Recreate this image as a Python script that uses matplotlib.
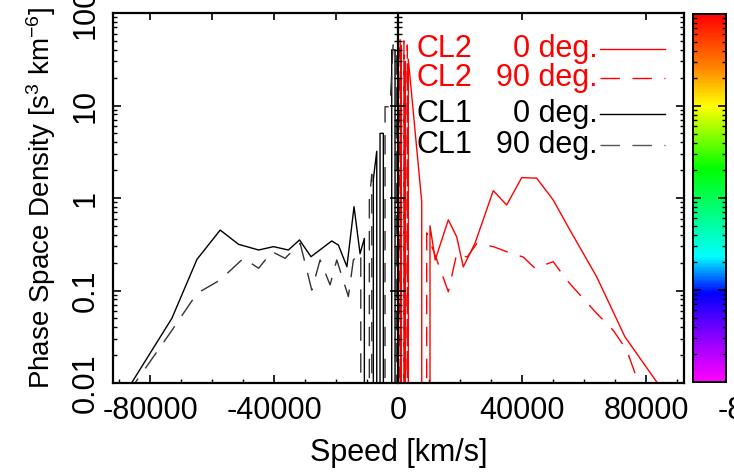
import matplotlib

matplotlib.use("Agg")
import numpy as np
import matplotlib.pyplot as plt
from matplotlib.colors import LinearSegmentedColormap
from matplotlib.ticker import FixedLocator, LogLocator, MultipleLocator, NullFormatter

plt.rcParams["font.family"] = ["Liberation Sans", "DejaVu Sans"]
plt.rcParams["mathtext.fontset"] = "custom"
plt.rcParams["mathtext.rm"] = "Liberation Sans"
plt.rcParams["mathtext.it"] = "Liberation Sans:italic"
plt.rcParams["axes.unicode_minus"] = False

# Phase space density vs speed; 0 means an empty bin (drops to the floor on log axis)
cl1_0_speed = [-89500, -73000, -64900, -57400, -51500, -45000, -40200, -35400, -31800,
               -28100, -21400, -19250, -16500, -14200, -12260, -10870, -10500, -7970,
               -6870, -6300, -5806, -4742, -3500, -2032, -968, -300]
cl1_0_psd = [0.0065, 0.050, 0.217, 0.45, 0.316, 0.274, 0.298, 0.274, 0.352,
             0.232, 0.343, 0.31, 0.181, 0.805, 0.25, 0.366, 0, 1.6,
             3.2, 0, 5.0, 5.0, 0, 40, 40, 0]

cl1_90_speed = [-87500, -73000, -64900, -57400, -49900, -45000, -40700, -36450, -31600,
                -27840, -25160, -21940, -19780, -16030, -14420, -12030, -11000, -9260,
                -8480, -7700, -4190, -2580, -1600, -600, 0]
cl1_90_psd = [0.0075, 0.037, 0.093, 0.13, 0.223, 0.174, 0.263, 0.223, 0.324,
              0.101, 0.214, 0.115, 0.214, 0.086, 0.214, 0.254, 0, 0.95,
              1.8, 0, 9.7, 9.7, 45, 45, 0]

cl2_0_speed = [500, 1000, 1600, 2300, 2900, 3320, 7650, 8500, 10320, 12000, 16230, 18940,
               21060, 24840, 30740, 35060, 39900, 44740, 50100, 55480, 64100, 73230,
               83450, 86130]
cl2_0_psd = [0, 45, 0, 30, 0, 31.6, 0.91, 0, 0.5, 0.214, 0.58, 0.38,
             0.18, 0.324, 1.2, 0.84, 1.66, 1.64, 0.95, 0.45, 0.141, 0.0316,
             0.0103, 0.0066]

cl2_90_speed = [200, 700, 1500, 1900, 2700, 3000, 3600, 9260, 12400, 16230, 18940, 22300,
                25500, 30740, 35060, 40400, 44200, 50100, 54400, 64100, 69500, 73800,
                77500, 78500]
cl2_90_psd = [0, 55, 0, 50, 0, 45, 0, 0.42, 0.22, 0.097, 0.25, 0.23,
              0.324, 0.298, 0.263, 0.23, 0.174, 0.205, 0.13, 0.0566, 0.037, 0.0227,
              0.0103, 0.008]

series_labels = [("CL2", "0 deg."), ("CL2", "90 deg."), ("CL1", "0 deg."), ("CL1", "90 deg.")]
xtick_values = [-80000, -40000, 0, 40000, 80000]
top_ticks = [-80000, -60000, -40000, -20000, 0, 40000, 80000]

RED = "#ff0000"
DASH = (0, (14, 9))
FS = 22

fig = plt.figure(figsize=(7.34, 4.73), dpi=100)
rect = [113 / 734, 90 / 473, 571 / 734, 370 / 473]
ax = fig.add_axes(rect)
ax.set_yscale("log")

ax.plot(cl1_0_speed, cl1_0_psd, color="black", lw=1.0)
ax.plot(cl1_90_speed, cl1_90_psd, color="#333333", lw=1.0, linestyle=DASH)
ax.plot(cl2_0_speed, cl2_0_psd, color=RED, lw=1.0)
ax.plot(cl2_90_speed, cl2_90_psd, color=RED, lw=1.0, linestyle=DASH)

ax.set_xlim(-92000, 92300)
ax.set_ylim(0.01, 100)

ax.xaxis.set_major_locator(FixedLocator(xtick_values))
ax.xaxis.set_minor_locator(MultipleLocator(10000))
ax.yaxis.set_major_locator(LogLocator(base=10))
ax.yaxis.set_minor_locator(LogLocator(base=10, subs=np.arange(2, 10)))
ax.yaxis.set_minor_formatter(NullFormatter())
ax.set_yticks([0.01, 0.1, 1, 10, 100], ["0.01", "0.1", "1", "10", "100"])

ax.tick_params(which="both", direction="in", labelsize=FS, right=True, top=False)
ax.tick_params(which="major", length=6, width=1.2)
ax.tick_params(which="minor", length=3, width=1.0)
ax.tick_params(axis="x", pad=9)
ax.tick_params(axis="y", labelrotation=90, pad=9)
for lbl in ax.get_yticklabels():
    lbl.set_va("center")
for spine in ax.spines.values():
    spine.set_linewidth(1.6)

top = ax.secondary_xaxis("top")
top.set_xticks(top_ticks)
top.tick_params(direction="in", length=5, width=1.2, labeltop=False)
top.spines["top"].set_visible(False)

ax.set_xlabel("Speed [km/s]", fontsize=FS, labelpad=9)
ax.set_ylabel(r"Phase Space Density [s$^3$ km$^{-6}$]", fontsize=20, labelpad=9)

# central axis at zero speed
mid = fig.add_axes(rect, sharex=ax, sharey=ax)
mid.patch.set_visible(False)
for name in ("top", "bottom", "right"):
    mid.spines[name].set_visible(False)
mid.spines["left"].set_position(("data", 0))
mid.spines["left"].set_linewidth(1.6)
mid.tick_params(which="both", direction="inout", labelleft=False, bottom=False,
                labelbottom=False)
mid.tick_params(which="major", length=12, width=1.2)
mid.tick_params(which="minor", length=6, width=1.0)

# legend drawn IDL-style: label text followed by a line sample
legend_text = [RED, RED, "black", "black"]
legend_styles = [(RED, "-"), (RED, DASH), ("black", "-"), ("#555555", DASH)]
legend_y = [0.903, 0.824, 0.727, 0.643]
for (name, angle), tcol, (col, ls), yy in zip(series_labels, legend_text, legend_styles, legend_y):
    ax.text(0.532, yy, name, transform=ax.transAxes, color=tcol, fontsize=FS,
            ha="left", va="center")
    ax.text(0.848, yy, angle, transform=ax.transAxes, color=tcol, fontsize=FS,
            ha="right", va="center")
    ax.plot([0.853, 0.967], [yy, yy], transform=ax.transAxes, color=col, lw=1.0,
            linestyle=ls)

# colour bar strip
cmap = LinearSegmentedColormap.from_list("idl_rainbow", [
    (0.0, "#ff00ff"), (0.13, "#8000ff"), (0.24, "#0000ff"), (0.34, "#00ffff"),
    (0.58, "#00ff00"), (0.75, "#ffff00"), (0.86, "#ff8000"), (1.0, "#ff0000")])
cax = fig.add_axes([693 / 734, 91 / 473, 33 / 734, 368 / 473])
cax.set_yscale("log")
edges = np.logspace(-2, 2, 257)
cax.pcolormesh([0, 1], edges, np.arange(256).reshape(-1, 1), cmap=cmap, shading="flat")
cax.set_xlim(0, 1)
cax.set_ylim(0.01, 100)
cax.set_xticks([])
cax.yaxis.set_minor_locator(LogLocator(base=10, subs=np.arange(2, 10)))
cax.tick_params(which="both", direction="in", left=True, right=True,
                labelleft=False, labelright=False)
cax.tick_params(which="major", length=6, width=1.2)
cax.tick_params(which="minor", length=3, width=1.0)
for spine in cax.spines.values():
    spine.set_linewidth(1.4)
fig.text(718 / 734, 54 / 473, "-80000", fontsize=FS, ha="left", va="baseline")

fig.savefig("out.png", dpi=100)
